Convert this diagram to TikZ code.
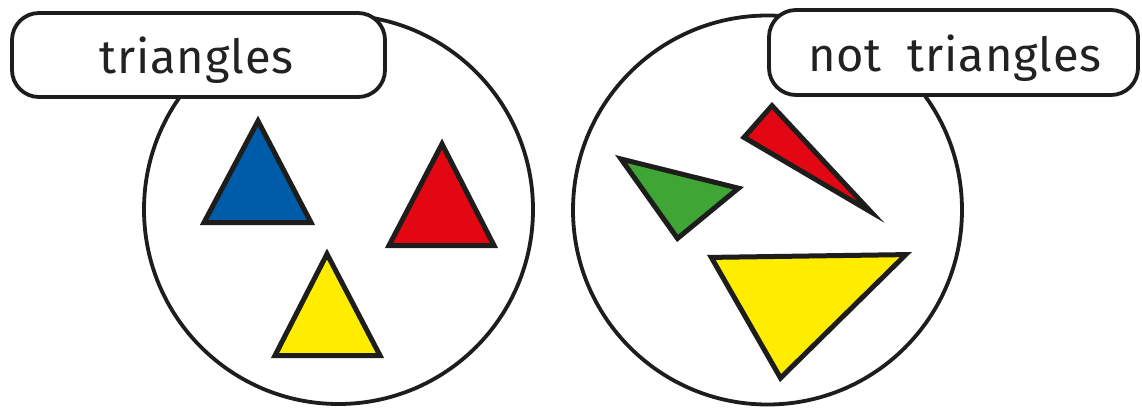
\documentclass[tikz,border=0pt]{standalone}
\usepackage{fontspec}
\setmainfont[LetterSpace=2,WordSpace=1.9]{Fira Sans}
\definecolor{ink}{HTML}{1D1D1B}
\definecolor{txt}{HTML}{222222}
\definecolor{tblue}{HTML}{005CA9}
\definecolor{tred}{HTML}{E30613}
\definecolor{tyellow}{HTML}{FFED00}
\definecolor{tgreen}{HTML}{3FA535}
\tikzset{
  setring/.style={circle, draw=ink, line width=3.8pt, minimum size=389pt, inner sep=0pt, fill=white},
  labelbox/.style={draw=ink, line width=3.8pt, fill=white, rounded corners=27pt, inner sep=0pt},
  labeltext/.style={text=txt, font=\fontsize{47}{54}\selectfont, inner sep=0pt, anchor=base},
  polyshape/.style={draw=ink, line width=5pt, line join=miter, miter limit=10}
}
\begin{document}
\begin{tikzpicture}[x=1pt,y=-1pt]
\useasboundingbox[fill=white] (0,0) rectangle (1142,407);
% sets
\node[setring] (left) at (338.5,209.5) {};
\node[setring] (right) at (767.5,210) {};
% labels
\node[labelbox, minimum width=373pt, minimum height=84pt] (lbox) at (198.5,55) {};
\node[labeltext] (ltext) at (196.5,73) {triangles};
\node[labelbox, minimum width=369pt, minimum height=85pt] (rbox) at (953.5,52.5) {};
\node[labeltext] (rtext) at (955,71) {not triangles};
% triangles in the left set
\filldraw[polyshape, fill=tblue] (258,121) -- (204,222.5) -- (311,222.5) -- cycle;
\filldraw[polyshape, fill=tred] (442,144) -- (389,245.5) -- (494,245.5) -- cycle;
\filldraw[polyshape, fill=tyellow] (327,254) -- (275,355.5) -- (380,355.5) -- cycle;
% shapes in the right set
\filldraw[polyshape, fill=tgreen] (621,159) -- (738.5,188.2) -- (677.5,238.4) -- cycle;
\filldraw[polyshape, fill=tred] (772,105.7) -- (744,137.4) -- (871,212) -- cycle;
\filldraw[polyshape, fill=tyellow] (711.3,257.4) -- (905.8,254.6) -- (780.5,378) -- cycle;
\end{tikzpicture}
\end{document}
